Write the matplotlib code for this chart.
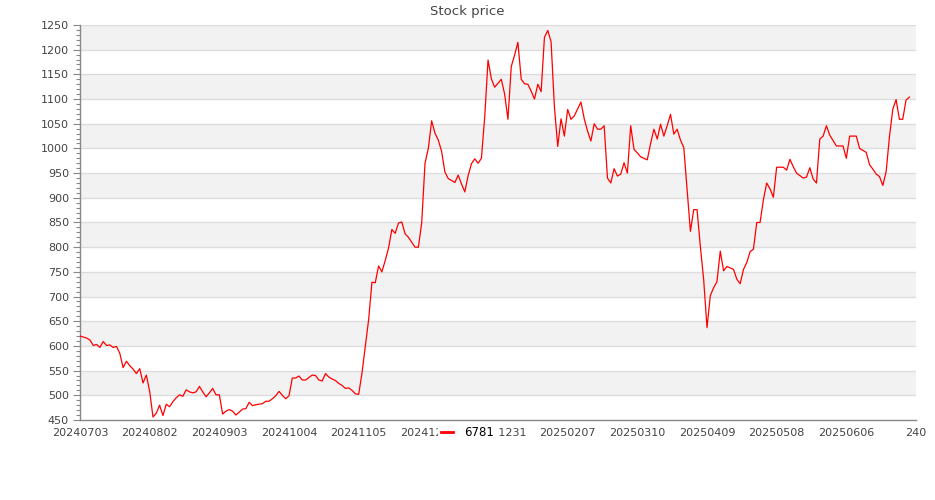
import numpy as np
import matplotlib
matplotlib.use("Agg")
import matplotlib.pyplot as plt
from matplotlib.ticker import MultipleLocator

# Data (one value per trading day)
prices = [
    620, 618, 616, 612, 601, 603, 597, 609, 601, 602,
    597, 599, 585, 556, 569, 560, 553, 544, 554, 525,
    541, 508, 456, 464, 480, 459, 482, 477, 487, 495,
    501, 498, 511, 507, 505, 507, 518, 507, 497, 505,
    514, 501, 501, 462, 468, 471, 468, 460, 466, 472,
    473, 486, 479, 481, 482, 483, 488, 488, 493, 499,
    508, 500, 493, 499, 535, 535, 539, 531, 531, 536,
    541, 540, 531, 529, 544, 537, 533, 530, 524, 520,
    514, 515, 510, 503, 502, 545, 599, 653, 729, 728,
    762, 750, 773, 798, 836, 828, 849, 851, 827, 820,
    810, 800, 800, 849, 970, 1000, 1056, 1031, 1017, 994,
    952, 939, 935, 931, 946, 928, 912, 945, 969, 979,
    970, 980, 1064, 1179, 1141, 1124, 1132, 1140, 1110, 1059,
    1166, 1189, 1215, 1140, 1131, 1130, 1116, 1100, 1130, 1115,
    1225, 1239, 1216, 1085, 1004, 1060, 1025, 1079, 1059, 1066,
    1080, 1094, 1060, 1035, 1015, 1050, 1039, 1039, 1046, 940,
    930, 959, 944, 948, 971, 950, 1046, 998, 991, 983,
    980, 977, 1010, 1039, 1019, 1049, 1025, 1046, 1069, 1029,
    1039, 1017, 1002, 916, 832, 876, 876, 801, 734, 637,
    702, 718, 730, 792, 752, 761, 758, 755, 735, 726,
    755, 769, 791, 796, 850, 850, 896, 930, 918, 901,
    962, 962, 962, 956, 978, 963, 950, 945, 940, 942,
    961, 938, 930, 1019, 1025, 1046, 1027, 1016, 1005, 1005,
    1005, 980, 1025, 1025, 1025, 1000, 996, 992, 967, 958,
    948, 943, 925, 953, 1024, 1079, 1099, 1059, 1059, 1098,
    1104,
]
date_labels = ['20240703', '20240802', '20240903', '20241004', '20241105',
               '20241204', '20241231', '20250207', '20250310', '20250409',
               '20250508', '20250606', '240']
label_step = 21
series_name = '6781'

fig = plt.figure(figsize=(9.35, 5.0), dpi=100)
ax = fig.add_axes([80 / 935, 80 / 500, 836 / 935, 395 / 500])

# alternating horizontal bands
for lo in range(500, 1250, 100):
    ax.axhspan(lo, lo + 50, color='#f2f2f2', zorder=0, lw=0)
for v in range(500, 1251, 50):
    ax.axhline(v, color='#dddddd', lw=1, zorder=1)

x = np.arange(len(prices))
ax.plot(x, prices, color='red', lw=0.9, zorder=3, label=series_name)

ax.set_xlim(0, label_step * (len(date_labels) - 1))
ax.set_ylim(450, 1250)
ax.set_xticks(np.arange(len(date_labels)) * label_step)
ax.set_xticklabels(date_labels)
ax.yaxis.set_major_locator(MultipleLocator(50))
ax.yaxis.set_minor_locator(MultipleLocator(10))

for s in ['top', 'right']:
    ax.spines[s].set_visible(False)
for s in ['left', 'bottom']:
    ax.spines[s].set_color('#888888')
    ax.spines[s].set_linewidth(1)

ax.tick_params(axis='y', which='major', length=5, width=0.8, color='#888888',
               labelsize=8, labelcolor='#444444', pad=3)
ax.tick_params(axis='y', which='minor', length=3, width=0.8, color='#888888')
ax.tick_params(axis='x', length=0, labelsize=8, labelcolor='#444444', pad=6)

fig.text(0.5, 1 - 12 / 500, 'Stock price', ha='center', va='center',
         fontsize=9.5, color='#444444')

leg = fig.legend(loc='center', bbox_to_anchor=(0.5, 1 - 433 / 500),
                 frameon=True, fancybox=False, edgecolor='white',
                 facecolor='white', framealpha=1, fontsize=8.5,
                 handlelength=1.0, handletextpad=0.9, borderpad=0.3)
for line in leg.get_lines():
    line.set_linewidth(2)

fig.savefig('out.png', dpi=100)
